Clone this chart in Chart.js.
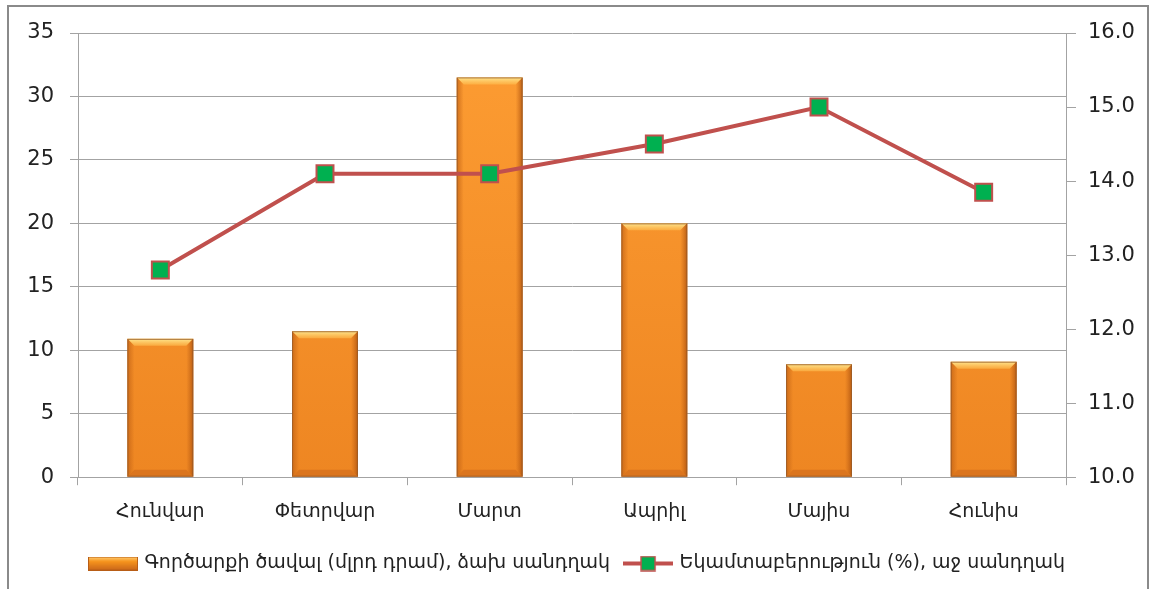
<!DOCTYPE html>
<html>
<head>
<meta charset="utf-8">
<script src="https://cdn.jsdelivr.net/npm/chart.js@4.4.0/dist/chart.umd.min.js"></script>
<style>
  html, body { margin: 0; padding: 0; background: #fff; overflow: hidden; }
  #wrap { position: relative; width: 1156px; height: 589px; }
  #frame { position: absolute; left: 7px; top: 5px; width: 1142px; height: 700px; border: 2px solid #8a8a8a; box-sizing: border-box; }
  canvas { position: absolute; left: 0; top: 0; }
</style>
</head>
<body>
<div id="wrap">
  <div id="frame"></div>
  <canvas id="chart" width="1156" height="589"></canvas>
</div>
<script>
const months = ['Հունվար', 'Փետրվար', 'Մարտ', 'Ապրիլ', 'Մայիս', 'Հունիս'];
const volume = [10.9, 11.5, 31.5, 20.0, 8.9, 9.1];
const profitability = [12.8, 14.1, 14.1, 14.5, 15.0, 13.85];
const volumeLabel = 'Գործարքի ծավալ (մլրդ դրամ), ձախ սանդղակ';
const profitLabel = 'Եկամտաբերություն (%), աջ սանդղակ';

const FONT = "'DejaVu Sans', 'Noto Sans', sans-serif";
const TEXT = '#222';
const GRID = '#a3a3a3';
const RED = '#c0504d';
const GREEN = '#00b050';

// legend swatches
function barSwatch() {
  const c = document.createElement('canvas');
  c.width = 50; c.height = 14;
  const g = c.getContext('2d');
  const grd = g.createLinearGradient(0, 0, 0, 14);
  grd.addColorStop(0, '#ffd27a');
  grd.addColorStop(0.35, '#f7941d');
  grd.addColorStop(1, '#c8651a');
  g.fillStyle = grd;
  g.fillRect(0, 0, 50, 14);
  g.strokeStyle = '#b85d16';
  g.strokeRect(0.5, 0.5, 49, 13);
  return c;
}
function lineSwatch() {
  const c = document.createElement('canvas');
  c.width = 50; c.height = 16;
  const g = c.getContext('2d');
  g.strokeStyle = RED; g.lineWidth = 4;
  g.beginPath(); g.moveTo(0, 8); g.lineTo(50, 8); g.stroke();
  g.fillStyle = GREEN;
  g.fillRect(18, 1, 14, 14);
  g.strokeStyle = RED; g.lineWidth = 1.5;
  g.strokeRect(18, 1, 14, 14);
  return c;
}
const swatches = [barSwatch(), lineSwatch()];

// bevel look on the bars
const bevel = {
  id: 'bevel',
  afterDatasetDraw(chart, args) {
    if (args.index !== 0) return;
    const ctx = chart.ctx;
    args.meta.data.forEach(bar => {
      const { x, y, base, width } = bar.getProps(['x', 'y', 'base', 'width'], true);
      const l = x - width / 2, r = x + width / 2, b = 7;
      ctx.save();
      // top bevel
      let tg = ctx.createLinearGradient(0, y, 0, y + b);
      tg.addColorStop(0, 'rgba(255,236,150,0.95)');
      tg.addColorStop(1, 'rgba(255,190,80,0.6)');
      ctx.fillStyle = tg;
      ctx.beginPath();
      ctx.moveTo(l, y); ctx.lineTo(r, y); ctx.lineTo(r - b, y + b); ctx.lineTo(l + b, y + b);
      ctx.closePath(); ctx.fill();
      // side shading
      let sg = ctx.createLinearGradient(l, 0, l + b, 0);
      sg.addColorStop(0, 'rgba(190,95,20,0.7)');
      sg.addColorStop(1, 'rgba(190,95,20,0)');
      ctx.fillStyle = sg;
      ctx.beginPath();
      ctx.moveTo(l, y); ctx.lineTo(l + b, y + b); ctx.lineTo(l + b, base - b); ctx.lineTo(l, base);
      ctx.closePath(); ctx.fill();
      sg = ctx.createLinearGradient(r, 0, r - b, 0);
      sg.addColorStop(0, 'rgba(170,80,15,0.8)');
      sg.addColorStop(1, 'rgba(190,95,20,0)');
      ctx.fillStyle = sg;
      ctx.beginPath();
      ctx.moveTo(r, y); ctx.lineTo(r - b, y + b); ctx.lineTo(r - b, base - b); ctx.lineTo(r, base);
      ctx.closePath(); ctx.fill();
      // bottom
      ctx.fillStyle = 'rgba(200,100,25,0.5)';
      ctx.beginPath();
      ctx.moveTo(l, base); ctx.lineTo(r, base); ctx.lineTo(r - b, base - b); ctx.lineTo(l + b, base - b);
      ctx.closePath(); ctx.fill();
      ctx.strokeStyle = 'rgba(150,90,40,0.8)'; ctx.lineWidth = 1;
      ctx.strokeRect(l + 0.5, y + 0.5, width - 1, base - y - 1);
      ctx.restore();
    });
  }
};

const ctx = document.getElementById('chart').getContext('2d');
new Chart(ctx, {
  data: {
    labels: months,
    datasets: [{
      type: 'bar',
      label: volumeLabel,
      data: volume,
      yAxisID: 'y',
      order: 2,
      backgroundColor: (c) => {
        const area = c.chart.chartArea;
        if (!area) return '#f7941d';
        const g = c.chart.ctx.createLinearGradient(0, area.top, 0, area.bottom);
        g.addColorStop(0, '#fd9d33');
        g.addColorStop(1, '#ee8622');
        return g;
      },
      borderWidth: 0,
      barPercentage: 0.4,
      categoryPercentage: 1
    }, {
      type: 'line',
      label: profitLabel,
      data: profitability,
      yAxisID: 'y1',
      order: 1,
      borderColor: RED,
      borderWidth: 4,
      pointStyle: 'rect',
      pointRadius: 12,
      pointBackgroundColor: GREEN,
      pointBorderColor: RED,
      pointBorderWidth: 2,
      tension: 0
    }]
  },
  options: {
    responsive: false,
    animation: false,
    devicePixelRatio: 1,
    layout: { padding: { top: 33, left: 0, right: 0, bottom: 6 } },
    plugins: {
      tooltip: { enabled: false },
      legend: {
        position: 'bottom',
        labels: {
          usePointStyle: true,
          pointStyleWidth: 44,
          padding: 16,
          color: TEXT,
          font: { family: FONT, size: 19 },
          generateLabels: (chart) => chart.data.datasets.map((ds, i) => ({
            text: ds.label,
            pointStyle: swatches[i],
            fontColor: TEXT,
            lineWidth: 0,
            strokeStyle: 'transparent',
            fillStyle: 'transparent',
            datasetIndex: i
          }))
        }
      }
    },
    scales: {
      x: {
        grid: { display: true, drawOnChartArea: false, drawTicks: true, tickLength: 8, color: GRID, offset: true },
        border: { color: GRID },
        ticks: { color: TEXT, font: { family: FONT, size: 19 }, padding: 15 }
      },
      y: {
        position: 'left',
        min: 0, max: 35,
        ticks: { stepSize: 5, color: TEXT, font: { family: FONT, size: 21 }, padding: 16 },
        grid: { color: GRID, tickLength: 8 },
        border: { color: GRID },
        afterFit: (s) => { s.width = 78; }
      },
      y1: {
        position: 'right',
        min: 10, max: 16,
        ticks: { stepSize: 1, color: TEXT, font: { family: FONT, size: 21 }, padding: 12, callback: (v) => v.toFixed(1) },
        grid: { drawOnChartArea: false, color: GRID, tickLength: 10 },
        border: { color: GRID },
        afterFit: (s) => { s.width = 90; }
      }
    }
  },
  plugins: [bevel]
});
</script>
</body>
</html>
